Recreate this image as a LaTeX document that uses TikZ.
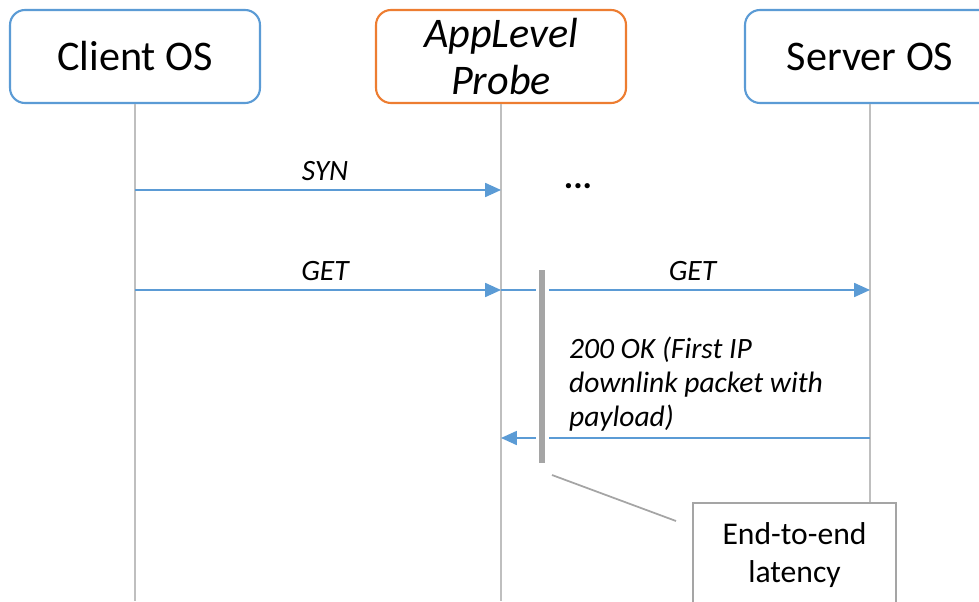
\documentclass[tikz,border=0pt]{standalone}
\usepackage{fontspec}
\setmainfont{Carlito}
\usetikzlibrary{positioning,arrows.meta}
\definecolor{osblue}{HTML}{5B9BD5}
\definecolor{probeorange}{HTML}{ED7D31}
\definecolor{lifegray}{HTML}{BFBFBF}
\definecolor{bargray}{HTML}{A5A5A5}

\begin{document}
\begin{tikzpicture}[x=0.02cm, y=-0.02cm,
 actor/.style={draw=osblue, line width=1.2pt, rounded corners=8.5pt, fill=white,
   minimum width=5cm, minimum height=1.86cm, inner sep=0pt, align=center,
   font=\fontsize{24}{26.5}\selectfont},
 life/.style={draw=lifegray, line width=0.8pt},
 msg/.style={draw=osblue, line width=0.8pt, -{Triangle[length=9pt,width=8pt]}},
 lbl/.style={font=\fontsize{16.8}{19.3}\selectfont\itshape, inner sep=1pt}]
 \useasboundingbox (0,0) rectangle (979,601);
 \coordinate (bottom) at (0,601);
 \node[actor] (client) at (135,56.5) {Client OS};
 \node[actor, draw=probeorange, font=\fontsize{24}{26.5}\selectfont\itshape] (probe) at (501,56.5) {AppLevel\\Probe};
 \node[actor] (server) at (870,56.5) {Server OS};
 \draw[life] (client.south) -- (client.south |- bottom);
 \draw[life] (probe.south) -- (probe.south |- bottom);
 \draw[life] (server.south) -- (server.south |- bottom);

 \coordinate (syn) at (0,190);
 \coordinate (get) at (0,290);
 \coordinate (ok) at (0,438);
 \draw[msg] (client.south |- syn) -- node[lbl, above=4pt, xshift=4pt] {SYN} (probe.south |- syn);
 \node[font=\fontsize{20}{20}\selectfont\bfseries] (dots) at (578,186) {...};
 \draw[msg] (client.south |- get) -- node[lbl, above=4pt, xshift=4pt] {GET} (probe.south |- get);
 \draw[msg] (probe.south |- get) -- node[lbl, above=4pt, xshift=4pt] {GET} (server.south |- get);
 \draw[msg] (server.south |- ok) -- (probe.south |- ok);
 \node[lbl, align=left, anchor=west] (oklbl) at (567,384) {200 OK (First IP\\downlink packet with\\payload)};

 \coordinate (bartop) at (542,270);
 \coordinate (barbot) at (542,463);
 \draw[white, line width=7.4pt] (bartop) -- (barbot);
 \draw[bargray, line width=3.2pt] (bartop) -- (barbot);

 \node[draw=bargray, line width=1.1pt, fill=white, minimum width=4.06cm, minimum height=2.08cm,
   anchor=north, align=center, font=\fontsize{18}{21.5}\selectfont] (latency) at (794.5,502)
   {End-to-end\\latency};
 \coordinate (ptrA) at (552,475);
 \coordinate (ptrB) at (676,521);
 \draw[bargray, line width=1pt] (ptrA) -- (ptrB);
\end{tikzpicture}
\end{document}
